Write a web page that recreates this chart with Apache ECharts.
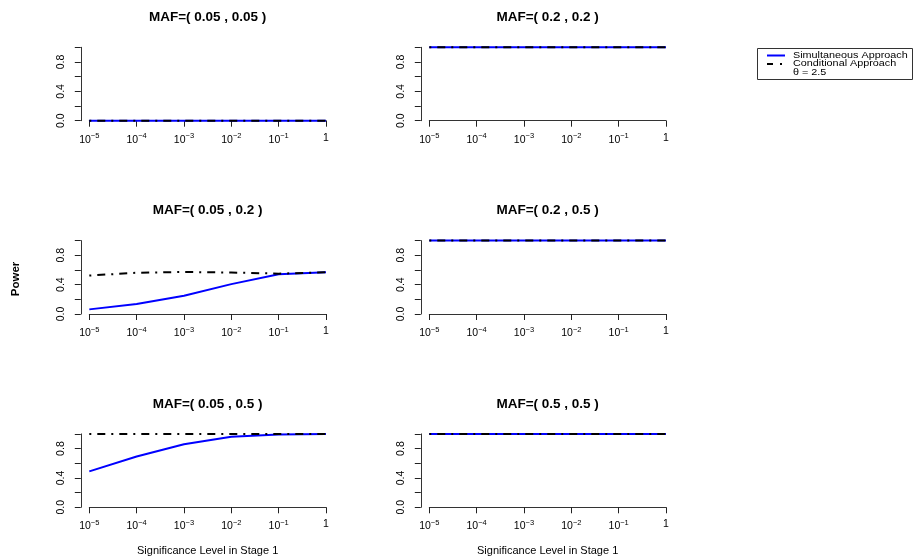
<!DOCTYPE html>
<html>
<head>
<meta charset="utf-8">
<script src="https://cdn.jsdelivr.net/npm/echarts@6/dist/echarts.min.js"></script>
<style>
html,body{margin:0;padding:0;background:#fff;}
#chart{width:914px;height:558px;}
</style>
</head>
<body>
<div id="chart"></div>
<script>
// ---- data ----
const alphaLevels = [1e-5, 1e-4, 1e-3, 1e-2, 1e-1, 1];
const panelTitles = [
  'MAF=( 0.05 , 0.05 )', 'MAF=( 0.2 , 0.2 )',
  'MAF=( 0.05 , 0.2 )',  'MAF=( 0.2 , 0.5 )',
  'MAF=( 0.05 , 0.5 )',  'MAF=( 0.5 , 0.5 )'
];
const simultaneous_005_005 = [0, 0, 0, 0, 0, 0];
const conditional_005_005  = [0, 0, 0, 0, 0, 0];
const simultaneous_02_02   = [1, 1, 1, 1, 1, 1];
const conditional_02_02    = [1, 1, 1, 1, 1, 1];
const simultaneous_005_02  = [0.063, 0.136, 0.249, 0.407, 0.542, 0.569];
const conditional_005_02   = [0.524, 0.562, 0.572, 0.565, 0.550, 0.569];
const simultaneous_02_05   = [1, 1, 1, 1, 1, 1];
const conditional_02_05    = [1, 1, 1, 1, 1, 1];
const simultaneous_005_05  = [0.490, 0.692, 0.858, 0.962, 0.993, 1.0];
const conditional_005_05   = [1, 1, 1, 1, 1, 1];
const simultaneous_05_05   = [1, 1, 1, 1, 1, 1];
const conditional_05_05    = [1, 1, 1, 1, 1, 1];
const yTickLabels = ['0.0', '0.4', '0.8'];
const seriesNames = ['Simultaneous Approach', 'Conditional Approach'];
const thetaLabel = 'θ = 2.5';
const xAxisTitle = 'Significance Level in Stage 1';
const yAxisTitle = 'Power';

const panelSim = [simultaneous_005_005, simultaneous_02_02, simultaneous_005_02,
                  simultaneous_02_05, simultaneous_005_05, simultaneous_05_05];
const panelCond = [conditional_005_005, conditional_02_02, conditional_005_02,
                   conditional_02_05, conditional_005_05, conditional_05_05];

// ---- layout ----
const FONT = 'Liberation Sans, Arial, Helvetica, sans-serif';
const BLUE = '#0000ff';
const DASH = [2, 6, 8, 6];
const G_LEFT0 = 89.3, G_W = 236.7, COL_DX = 340;
const G_TOP0 = 47.3, G_H = 73.4, ROW_DY = 193.3;

const grids = [], xAxes = [], yAxes = [], titles = [], series = [];
for (let i = 0; i < 6; i++) {
  const r = Math.floor(i / 2), c = i % 2;
  const left = G_LEFT0 + c * COL_DX, top = G_TOP0 + r * ROW_DY;
  grids.push({left: left, top: top, width: G_W, height: G_H, containLabel: false});
  titles.push({
    text: panelTitles[i], left: left + G_W / 2, top: top - 37, textAlign: 'center', padding: 0,
    textStyle: {fontFamily: FONT, fontSize: 13.5, fontWeight: 'bold', color: '#000'}
  });
  const xa = {
    type: 'log', logBase: 10, gridIndex: i, min: 1e-5, max: 1, offset: 3.6,
    splitLine: {show: false}, minorTick: {show: false},
    axisLine: {show: true, lineStyle: {color: '#333', width: 1}},
    axisTick: {show: true, inside: false, length: 6, lineStyle: {color: '#222', width: 1}},
    axisLabel: {
      margin: 8, fontFamily: FONT, color: '#000',
      formatter: function (v) {
        const e = Math.round(Math.log10(v));
        if (e === 0) return '{b|1}';
        return '{b|10}{s|−' + (-e) + '}';
      },
      rich: {
        b: {fontFamily: FONT, fontSize: 10.5, color: '#000', verticalAlign: 'bottom'},
        s: {fontFamily: FONT, fontSize: 7.5, color: '#000', verticalAlign: 'bottom', padding: [0, 0, 5, 0]}
      }
    }
  };
  if (r === 2) {
    xa.name = xAxisTitle;
    xa.nameLocation = 'middle';
    xa.nameGap = 35;
    xa.nameTextStyle = {fontFamily: FONT, fontSize: 11, color: '#000'};
  }
  xAxes.push(xa);
  yAxes.push({
    type: 'value', gridIndex: i, min: 0, max: 1, interval: 0.2, offset: 8.5,
    splitLine: {show: false},
    axisLine: {show: true, lineStyle: {color: '#333', width: 1}},
    axisTick: {show: true, inside: false, length: 6, lineStyle: {color: '#222', width: 1}},
    axisLabel: {
      rotate: 90, margin: 14, fontFamily: FONT, fontSize: 10.5, color: '#000',
      formatter: function (v) {
        const s = v.toFixed(1);
        return yTickLabels.indexOf(s) >= 0 ? s : '';
      }
    }
  });
  series.push({
    name: seriesNames[0], type: 'line', xAxisIndex: i, yAxisIndex: i,
    data: alphaLevels.map((a, k) => [a, panelSim[i][k]]),
    showSymbol: false, symbol: 'none', clip: false, z: 2,
    lineStyle: {color: BLUE, width: 2}, itemStyle: {color: BLUE}
  });
  series.push({
    name: seriesNames[1], type: 'line', xAxisIndex: i, yAxisIndex: i,
    data: alphaLevels.map((a, k) => [a, panelCond[i][k]]),
    showSymbol: false, symbol: 'none', clip: false, z: 3,
    lineStyle: {color: '#000', width: 2, type: DASH}, itemStyle: {color: '#000'}
  });
}

const LX = 757.5, LY = 48.5;
const legendText = (txt, y) => ({
  type: 'text', x: 793, y: y, scaleX: 1.2, scaleY: 1,
  style: {text: txt, fontFamily: FONT, fontSize: 9, fill: '#000', verticalAlign: 'middle'}, silent: true
});
const chart = echarts.init(document.getElementById('chart'), null, {renderer: 'canvas'});
chart.setOption({
  backgroundColor: '#fff',
  animation: false,
  title: titles,
  grid: grids,
  xAxis: xAxes,
  yAxis: yAxes,
  series: series,
  graphic: [
    {type: 'rect', shape: {x: LX, y: LY, width: 155, height: 31}, style: {fill: 'none', stroke: '#333', lineWidth: 1}, silent: true},
    {type: 'line', shape: {x1: 767, y1: 55.5, x2: 785, y2: 55.5}, style: {stroke: BLUE, lineWidth: 2}, silent: true},
    {type: 'line', shape: {x1: 767, y1: 64, x2: 785, y2: 64}, style: {stroke: '#000', lineWidth: 2, lineDash: [6, 7, 2, 20]}, silent: true},
    legendText(seriesNames[0], 55.5),
    legendText(seriesNames[1], 64),
    legendText(thetaLabel, 72.5),
    {type: 'text', x: 16, y: 279, rotation: Math.PI / 2, style: {text: yAxisTitle, fontFamily: FONT, fontSize: 11.5, fontWeight: 'bold', fill: '#000', align: 'center', verticalAlign: 'middle'}, silent: true}
  ]
});
</script>
</body>
</html>
